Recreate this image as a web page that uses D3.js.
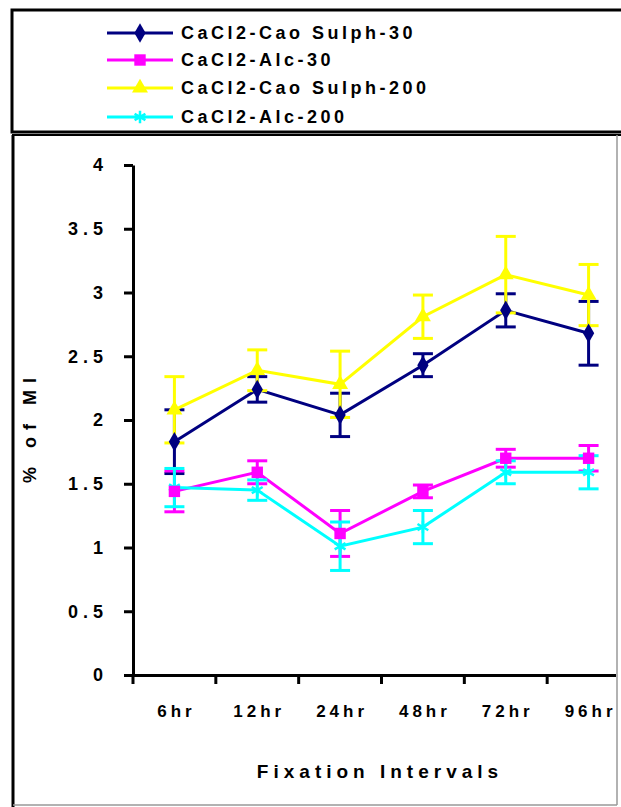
<!DOCTYPE html>
<html>
<head>
<meta charset="utf-8">
<script src="https://cdn.jsdelivr.net/npm/d3@7"></script>
<style>
  body { margin: 0; background: #fff; }
  text { font-family: "Liberation Sans", Arial, sans-serif; font-weight: bold; fill: #000; }
</style>
</head>
<body>
<div id="chart"></div>
<script>
// data
const intervals = ["6hr", "12hr", "24hr", "48hr", "72hr", "96hr"];
const seriesNames = ["CaCl2-Cao Sulph-30", "CaCl2-Alc-30", "CaCl2-Cao Sulph-200", "CaCl2-Alc-200"];
const seriesColors = ["#000080", "#ff00ff", "#ffff00", "#00ffff"];
const seriesSymbols = ["diamond", "square", "triangle", "asterisk"];

const caoSulph30 = [1.83, 2.24, 2.04, 2.43, 2.86, 2.68];
const caoSulph30Err = [0.25, 0.1, 0.17, 0.09, 0.13, 0.25];
const alc30 = [1.44, 1.59, 1.11, 1.44, 1.70, 1.70];
const alc30Err = [0.16, 0.09, 0.18, 0.05, 0.07, 0.1];
const caoSulph200 = [2.08, 2.39, 2.28, 2.81, 3.14, 2.98];
const caoSulph200Err = [0.26, 0.16, 0.26, 0.17, 0.3, 0.24];
const alc200 = [1.47, 1.45, 1.01, 1.16, 1.59, 1.59];
const alc200Err = [0.15, 0.08, 0.19, 0.13, 0.09, 0.13];

const yTicks = [0, 0.5, 1, 1.5, 2, 2.5, 3, 3.5, 4];

const seriesValues = [caoSulph30, alc30, caoSulph200, alc200];
const seriesErrors = [caoSulph30Err, alc30Err, caoSulph200Err, alc200Err];

const width = 621, height = 807;
const margin = {top: 165, right: -9, bottom: 132, left: 133};

const svg = d3.select("#chart").append("svg")
    .attr("width", width)
    .attr("height", height);

// frames
svg.append("rect")
    .attr("x", 12).attr("y", 10).attr("width", 620).attr("height", 122)
    .attr("fill", "none").attr("stroke", "#000").attr("stroke-width", 3);
svg.append("line").attr("x1", 12).attr("x2", 630).attr("y1", 135).attr("y2", 135)
    .attr("stroke", "#000").attr("stroke-width", 2);
svg.append("line").attr("x1", 13).attr("x2", 13).attr("y1", 135).attr("y2", 807)
    .attr("stroke", "#000").attr("stroke-width", 3);
svg.append("line").attr("x1", 617).attr("x2", 617).attr("y1", 135).attr("y2", 805)
    .attr("stroke", "#999").attr("stroke-width", 1.5);
svg.append("line").attr("x1", 13).attr("x2", 617).attr("y1", 805).attr("y2", 805)
    .attr("stroke", "#999").attr("stroke-width", 1.5);

svg.append("clipPath").attr("id", "plotclip")
  .append("rect").attr("x", 0).attr("y", 0).attr("width", 616).attr("height", height);

const g = svg.append("g").attr("clip-path", "url(#plotclip)");

const xScale = d3.scaleBand()
    .domain(intervals)
    .range([margin.left, width - margin.right]);
const yScale = d3.scaleLinear()
    .domain([0, 4])
    .range([height - margin.bottom, margin.top]);
const xMid = i => xScale(intervals[i]) + xScale.bandwidth() / 2;

const symbolType = {
  diamond: d3.symbolDiamond,
  square: d3.symbolSquare,
  triangle: d3.symbolTriangle,
  asterisk: d3.symbolAsterisk
};
const symbolSize = {diamond: 110, square: 130, triangle: 110, asterisk: 110};

function marker(sel, kind, color) {
  const path = sel.append("path")
      .attr("d", d3.symbol().type(symbolType[kind]).size(symbolSize[kind]));
  if (kind === "asterisk") {
    path.attr("fill", "none").attr("stroke", color).attr("stroke-width", 2.5);
  } else {
    path.attr("fill", color).attr("stroke", "none");
  }
  return path;
}

// y axis
const yAxis = d3.axisLeft(yScale)
    .tickValues(yTicks)
    .tickFormat(d3.format(""))
    .tickSizeInner(9)
    .tickSizeOuter(0)
    .tickPadding(16);
const yAxisDraw = g.append("g")
    .attr("transform", `translate(${margin.left},0)`)
    .call(yAxis);
yAxisDraw.select(".domain").attr("stroke-width", 3);
yAxisDraw.selectAll(".tick line").attr("stroke-width", 3);
yAxisDraw.selectAll("text")
    .style("font-size", "18px")
    .style("letter-spacing", "5px")
    .attr("fill", "#000");

// x axis: labels centred, ticks between categories
const xAxis = d3.axisBottom(xScale).tickSize(0).tickPadding(30);
const xAxisDraw = g.append("g")
    .attr("transform", `translate(0,${yScale(0)})`)
    .call(xAxis);
xAxisDraw.select(".domain").attr("stroke-width", 3);
xAxisDraw.selectAll("text")
    .attr("dx", "2px")
    .style("font-size", "17px")
    .style("letter-spacing", "4px")
    .attr("fill", "#000");
g.append("g").selectAll("line")
    .data(intervals)
    .enter().append("line")
    .attr("x1", d => xScale(d)).attr("x2", d => xScale(d))
    .attr("y1", yScale(0)).attr("y2", yScale(0) + 9)
    .attr("stroke", "#000").attr("stroke-width", 3);

// axis titles
svg.append("text")
    .attr("x", 380).attr("y", 778)
    .attr("text-anchor", "middle")
    .style("font-size", "19px")
    .style("letter-spacing", "5px")
    .text("Fixation Intervals");
svg.append("text")
    .attr("transform", "translate(36,427) rotate(-90)")
    .attr("text-anchor", "middle")
    .style("font-size", "18px")
    .style("letter-spacing", "7px")
    .text("% of MI");

// series: lines and error bars first, markers on top of everything
const line = d3.line()
    .x((d, i) => xMid(i))
    .y(d => yScale(d));

[0, 1, 2, 3].forEach(s => {
  const color = seriesColors[s];
  const vals = seriesValues[s];
  const errs = seriesErrors[s];
  const sg = g.append("g").attr("class", "series");

  sg.append("path")
      .datum(vals)
      .attr("d", line)
      .attr("fill", "none")
      .attr("stroke", color)
      .attr("stroke-width", 3);

  const eb = sg.selectAll(".err")
      .data(vals)
      .enter().append("g")
      .attr("class", "err")
      .attr("transform", (d, i) => `translate(${xMid(i)},0)`);
  eb.append("line")
      .attr("y1", (d, i) => yScale(d - errs[i]))
      .attr("y2", (d, i) => yScale(d + errs[i]))
      .attr("stroke", color).attr("stroke-width", 3);
  eb.append("line")
      .attr("x1", -10).attr("x2", 10)
      .attr("y1", (d, i) => yScale(d + errs[i]))
      .attr("y2", (d, i) => yScale(d + errs[i]))
      .attr("stroke", color).attr("stroke-width", 3);
  eb.append("line")
      .attr("x1", -10).attr("x2", 10)
      .attr("y1", (d, i) => yScale(d - errs[i]))
      .attr("y2", (d, i) => yScale(d - errs[i]))
      .attr("stroke", color).attr("stroke-width", 3);
});

[2, 3, 1, 0].forEach(s => {
  g.append("g").selectAll(".pt")
      .data(seriesValues[s])
      .enter().append("g")
      .attr("class", "pt")
      .attr("transform", (d, i) => `translate(${xMid(i)},${yScale(d)})`)
      .each(function() { marker(d3.select(this), seriesSymbols[s], seriesColors[s]); });
});

// legend
const legendY = [33, 60, 88, 117];
const legend = svg.append("g").attr("class", "legend");
const items = legend.selectAll(".item")
    .data(seriesNames)
    .enter().append("g")
    .attr("class", "item")
    .attr("transform", (d, i) => `translate(0,${legendY[i]})`);
items.append("line")
    .attr("x1", 107).attr("x2", 173)
    .attr("stroke", (d, i) => seriesColors[i])
    .attr("stroke-width", 3);
items.append("g")
    .attr("transform", "translate(140,0)")
    .each(function(d, i) { marker(d3.select(this), seriesSymbols[i], seriesColors[i]); });
items.append("text")
    .attr("x", 181).attr("y", 6)
    .style("font-size", "18px")
    .style("letter-spacing", "3.5px")
    .text(d => d);
</script>
</body>
</html>
